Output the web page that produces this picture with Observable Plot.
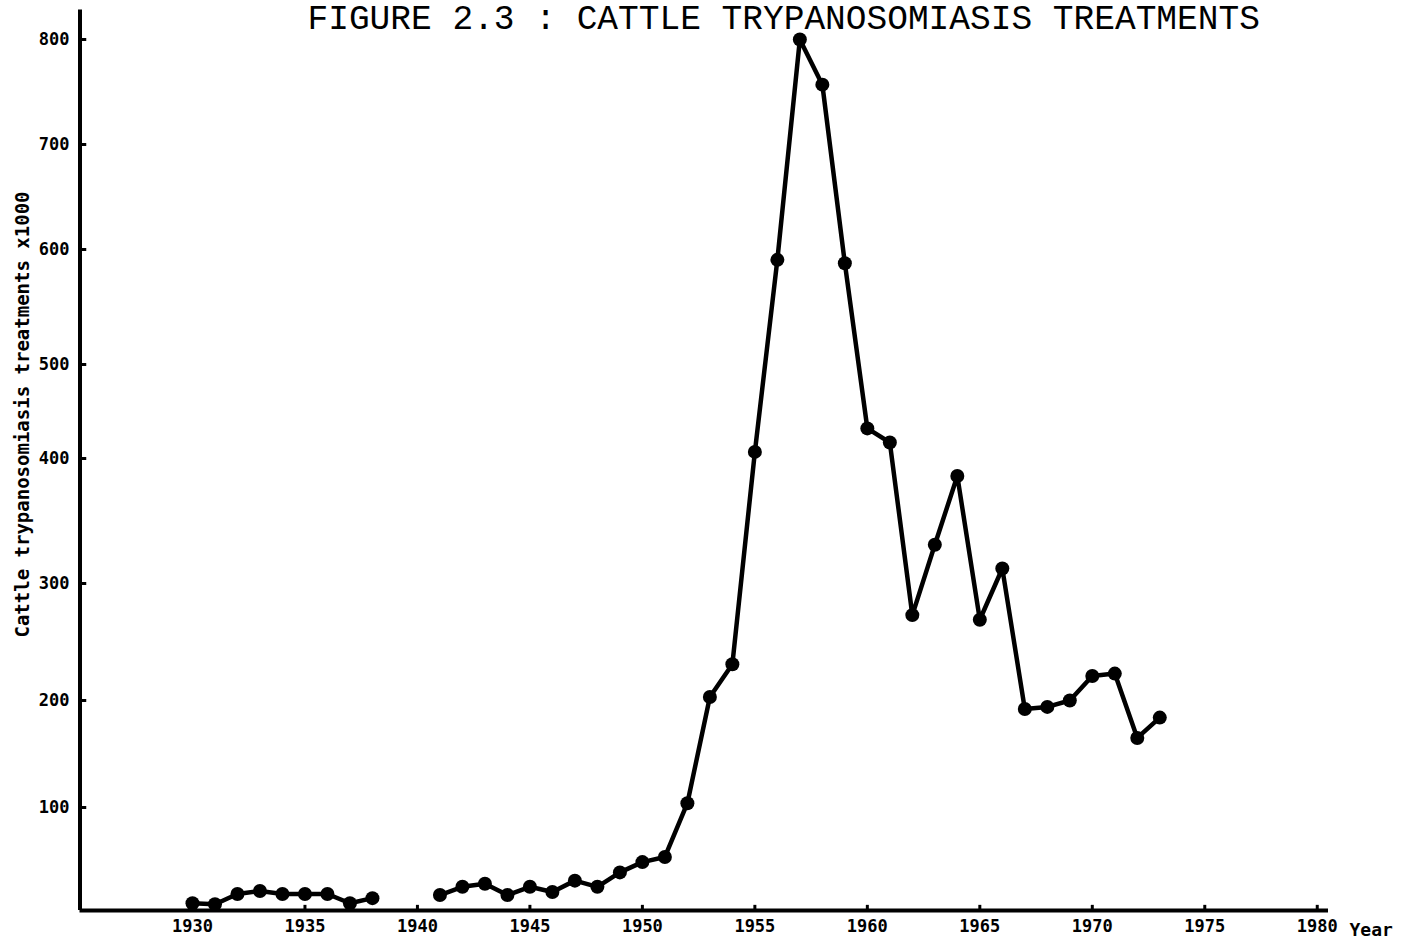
<!DOCTYPE html>
<html>
<head>
<meta charset="utf-8">
<script src="https://cdn.jsdelivr.net/npm/d3@7"></script>
<script src="https://cdn.jsdelivr.net/npm/@observablehq/plot@0.6"></script>
<style>
  html, body { margin: 0; padding: 0; background: #fff; }
</style>
</head>
<body>
<div id="chart"></div>
<script>
// ---- Data ----
const years = [1930, 1931, 1932, 1933, 1934, 1935, 1936, 1937, 1938, 1939, 1940,
               1941, 1942, 1943, 1944, 1945, 1946, 1947, 1948, 1949, 1950,
               1951, 1952, 1953, 1954, 1955, 1956, 1957, 1958, 1959, 1960,
               1961, 1962, 1963, 1964, 1965, 1966, 1967, 1968, 1969, 1970,
               1971, 1972, 1973];
// thousands of treatments; 1939 and 1940 not recorded (gap in the line)
const treatments = [7, 6, 16, 19, 16, 16, 16, 7, 12, null, null,
                    15, 23, 26, 15, 23, 18, 29, 23, 37, 47,
                    52, 104, 203, 231, 407, 591, 800, 757, 588, 432,
                    417, 273, 331, 386, 269, 312, 192, 194, 200, 221,
                    223, 165, 184];
const yTicks = [100, 200, 300, 400, 500, 600, 700, 800];
const xTicks = [1930, 1935, 1940, 1945, 1950, 1955, 1960, 1965, 1970, 1975, 1980];
const titleText = "FIGURE 2.3 : CATTLE TRYPANOSOMIASIS TREATMENTS";
const yLabel = "Cattle trypanosomiasis treatments x1000";
const xLabel = "Year";

const data = years.map((year, i) => ({year, value: treatments[i]}));

const chart = Plot.plot({
  width: 1418,
  height: 946,
  marginTop: 0,
  marginRight: 90,
  marginBottom: 36,
  marginLeft: 80,
  style: {background: "#fff", color: "#000", fontFamily: "DejaVu Sans Mono", fontSize: "17px", fontWeight: "bold"},
  x: {type: "linear", domain: [1925, 1980.5], range: [79.5, 1328]},
  // hand-drawn axis: tick marks are unevenly spaced in the original
  y: {type: "linear", domain: [0, 100, 200, 300, 400, 500, 600, 700, 800],
      range: [910, 807, 700, 583, 458, 364, 249, 144, 39]},
  marks: [
    // axis lines
    Plot.ruleX([1925], {y1: 0, y2: 828, stroke: "#000", strokeWidth: 4}),
    Plot.ruleY([0], {x1: 1925, x2: 1980.5, stroke: "#000", strokeWidth: 4}),
    // small inward tick nubs
    Plot.ruleY(yTicks, {x1: 1925, x2: 1925.3, stroke: "#000", strokeWidth: 3}),
    Plot.ruleX(xTicks, {y1: 0, y2: 5, stroke: "#000", strokeWidth: 3}),
    Plot.axisY({ticks: yTicks, tickSize: 0, tickPadding: 11, label: null, fontSize: 17}),
    Plot.axisX({ticks: xTicks, tickSize: 0, tickPadding: 9, label: null, fontSize: 17, tickFormat: d => String(d)}),
    // data
    Plot.line(data, {x: "year", y: "value", stroke: "#000", strokeWidth: 4.5}),
    Plot.dot(data, {x: "year", y: "value", r: 7, fill: "#000"}),
    // texts
    Plot.text([titleText], {frameAnchor: "top-left", dx: 227, dy: 17, textAnchor: "start", lineAnchor: "middle",
                            fontSize: 34.5, fontWeight: "normal", fontFamily: "Liberation Mono", fill: "#000"}),
    Plot.text([yLabel], {frameAnchor: "top-left", dx: -58, dy: 414, rotate: -90, textAnchor: "middle", lineAnchor: "middle",
                         fontSize: 19, fontWeight: "bold", fontFamily: "DejaVu Sans Mono", fill: "#000"}),
    Plot.text([xLabel], {frameAnchor: "top-left", dx: 1269, dy: 930, textAnchor: "start", lineAnchor: "middle",
                         fontSize: 18, fontWeight: "bold", fontFamily: "DejaVu Sans Mono", fill: "#000"})
  ]
});
document.getElementById("chart").appendChild(chart);
</script>
</body>
</html>
